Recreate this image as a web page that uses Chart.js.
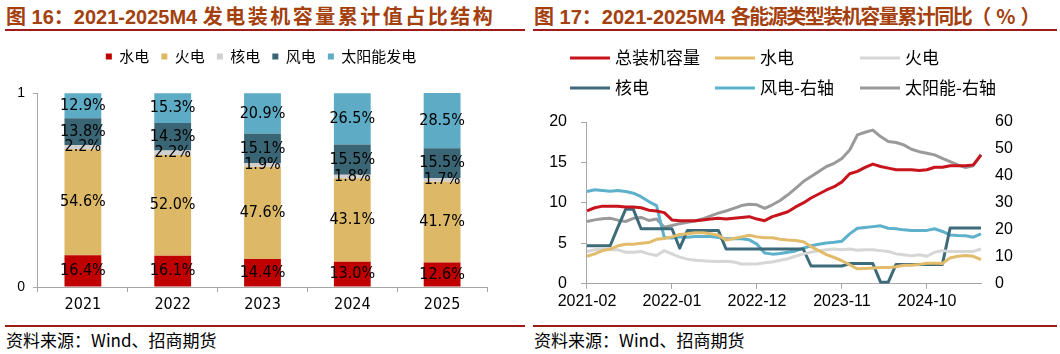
<!DOCTYPE html>
<html><head><meta charset="utf-8">
<script src="https://cdn.jsdelivr.net/npm/chart.js@4.4.1/dist/chart.umd.min.js"></script>
<style>
html,body{margin:0;padding:0;background:#fff;}
body{width:1060px;height:354px;position:relative;overflow:hidden;font-family:"Noto Sans CJK SC",sans-serif;}
.title{position:absolute;top:3px;font-weight:bold;font-size:20px;color:#A4400E;white-space:nowrap;font-family:"Liberation Sans","Noto Sans CJK SC",sans-serif;line-height:26px;}
.cjL{letter-spacing:2.5px;font-family:"Noto Sans CJK SC",sans-serif;}
.cjR{letter-spacing:-1.5px;font-family:"Noto Sans CJK SC",sans-serif;}
.pct{letter-spacing:5px;font-family:"Noto Sans CJK SC",sans-serif;}
.rule{position:absolute;height:2px;background:#9E1B1B;}
.src{position:absolute;top:330px;font-size:17px;color:#000;white-space:nowrap;line-height:20px;}
canvas{position:absolute;}
</style></head>
<body>
<div class="title" style="left:6px">图 16：2021-2025M4 <span class="cjL">发电装机容量累计值占比结构</span></div>
<div class="title" style="left:534px">图 17：2021-2025M4 <span class="cjR">各能源类型装机容量累计同比</span><span class="pct">（%）</span></div>
<div class="rule" style="left:5px;top:29px;width:520px"></div>
<div class="rule" style="left:533px;top:29px;width:524px"></div>
<canvas id="left" width="530" height="282" style="left:0;top:37px"></canvas>
<canvas id="right" width="530" height="282" style="left:530px;top:38px"></canvas>
<div class="rule" style="left:5px;top:325px;width:520px"></div>
<div class="rule" style="left:533px;top:325px;width:524px"></div>
<div class="src" style="left:6px">资料来源：Wind、招商期货</div>
<div class="src" style="left:534px">资料来源：Wind、招商期货</div>
<script>
// ---- Left chart data (share of installed capacity, %) ----
const barYears = ['2021','2022','2023','2024','2025'];
const barSeriesNames = ['水电','火电','核电','风电','太阳能发电'];
const hydroShare   = [16.4, 16.1, 14.4, 13.0, 12.6];
const thermalShare = [54.6, 52.0, 47.6, 43.1, 41.7];
const nuclearShare = [2.2, 2.2, 1.9, 1.8, 1.7];
const windShare    = [13.8, 14.3, 15.1, 15.5, 15.5];
const solarShare   = [12.9, 15.3, 20.9, 26.5, 28.5];

// ---- Right chart data (cumulative YoY, %) ----
const months = ['2021-02','2021-03','2021-04','2021-05','2021-06','2021-07','2021-08','2021-09','2021-10','2021-11','2021-12',
 '2022-01','2022-02','2022-03','2022-04','2022-05','2022-06','2022-07','2022-08','2022-09','2022-10','2022-11','2022-12',
 '2023-01','2023-02','2023-03','2023-04','2023-05','2023-06','2023-07','2023-08','2023-09','2023-10','2023-11','2023-12',
 '2024-01','2024-02','2024-03','2024-04','2024-05','2024-06','2024-07','2024-08','2024-09','2024-10','2024-11','2024-12',
 '2025-01','2025-02','2025-03','2025-04','2025-05'];
const monthTickLabels = ['2021-02','2022-01','2022-12','2023-11','2024-10'];
const lineSeriesNames = ['总装机容量','水电','火电','核电','风电-右轴','太阳能-右轴'];
const totalYoY = [9.0,9.4,9.6,9.6,9.6,9.5,9.5,9.4,9.1,9.0, 8.8,7.9,7.8,7.8,7.8,7.9,8.0,8.1,8.0,8.1, 8.2,8.3,8.0,7.8,8.3,8.6,8.9,9.5,10.0,10.6, 11.1,11.6,12.0,12.6,13.6,13.9,14.4,14.8,14.5,14.3, 14.1,14.1,14.1,14.0,14.1,14.4,14.4,14.6,14.6,14.6, 14.7,15.9];
const hydroYoY = [3.4,3.7,4.1,4.3,4.7,4.9,4.9,5.0,5.1,5.5, 5.6,5.8,6.1,6.2,6.3,6.3,6.2,6.0,5.4,5.6, 5.8,6.0,5.8,5.7,5.7,5.5,5.4,5.35,5.2,4.6, 4.1,3.6,3.25,2.85,2.35,1.85,1.9,1.95,2.0,2.0, 2.1,2.3,2.3,2.4,2.55,2.55,2.5,3.2,3.4,3.5, 3.4,3.0];
const thermalYoY = [4.0,4.2,4.3,4.2,4.2,3.9,3.9,4.0,3.7,3.5, 4.1,3.7,3.3,3.05,2.9,2.85,2.8,2.75,2.8,2.7, 2.45,2.45,2.45,2.6,2.7,2.9,3.1,3.4,3.7,3.9, 4.1,4.2,4.3,4.2,4.3,4.15,4.2,4.2,4.1,4.0, 3.7,3.6,3.45,3.6,3.4,3.9,4.1,4.0,4.0,4.0, 4.0,4.3];
const nuclearYoY = [4.7,4.7,4.7,4.7,7.0,9.2,9.2,6.8,6.8,6.8, 6.8,6.8,4.4,6.6,6.6,6.6,6.6,6.6,4.3,4.3, 4.3,4.3,4.3,4.3,4.3,4.3,4.3,4.3,4.3,2.2, 2.2,2.2,2.2,2.2,2.5,2.5,2.5,2.5,0.2,0.2, 2.4,2.4,2.4,2.4,2.4,2.4,2.4,6.9,6.9,6.9, 6.9,6.9];
const windYoY = [34.2,34.9,34.6,34.3,34.6,34.2,33.6,32.3,30.5,29.0, 17.2,17.0,17.4,17.3,17.5,17.5,17.5,17.2,16.7,16.7, 16.7,16.3,14.7,11.4,11.0,11.2,11.7,12.2,13.2,14.1, 14.7,15.1,15.4,15.8,18.5,20.6,20.9,21.2,21.5,20.6, 20.4,20.0,19.8,19.8,19.8,20.4,19.4,18.1,17.9,17.8, 17.3,18.5];
const solarYoY = [23.1,23.7,24.1,24.3,23.6,23.1,24.3,24.6,23.5,24.0, 21.0,21.6,22.3,22.8,23.3,24.1,25.2,26.2,27.0,28.0, 29.0,29.5,29.3,28.0,29.3,30.9,33.0,35.4,37.9,39.8, 41.6,43.5,44.7,46.5,49.6,55.2,56.2,57.0,54.6,52.8, 52.4,51.5,49.9,49.0,48.4,47.8,46.5,45.3,44.1,43.1, 43.8,48.0];

Chart.defaults.font.family = '"Liberation Sans", "Noto Sans CJK SC", sans-serif';
Chart.defaults.color = '#000';
const AXIS = '#A6A6A6';
const NARROW = '"Liberation Sans Narrow", "DejaVu Sans Condensed", "Liberation Sans", sans-serif';

const legendSpace = {
  id: 'legendSpace',
  beforeInit(chart) {
    const orig = chart.legend.fit;
    chart.legend.fit = function () { orig.call(this); this.height += 19; };
  },
  afterLayout(chart) { chart.legend.left += 13; chart.legend.right += 13; }
};

const barLabels = {
  id: 'barLabels',
  afterDatasetsDraw(chart) {
    const ctx = chart.ctx;
    ctx.save();
    ctx.font = '16px ' + NARROW;
    ctx.fillStyle = '#000';
    ctx.textAlign = 'center';
    ctx.textBaseline = 'middle';
    chart.data.datasets.forEach((ds, di) => {
      chart.getDatasetMeta(di).data.forEach((el, i) => {
        ctx.fillText(ds.data[i].toFixed(1) + '%', el.x, (el.y + el.base) / 2);
      });
    });
    ctx.restore();
  }
};

new Chart(document.getElementById('left'), {
  type: 'bar',
  data: {
    labels: barYears,
    datasets: [
      { label: barSeriesNames[0], data: hydroShare, backgroundColor: '#C00000' },
      { label: barSeriesNames[1], data: thermalShare, backgroundColor: '#DDB866' },
      { label: barSeriesNames[2], data: nuclearShare, backgroundColor: '#D0D0D0' },
      { label: barSeriesNames[3], data: windShare, backgroundColor: '#3A6574' },
      { label: barSeriesNames[4], data: solarShare, backgroundColor: '#5DABC5' }
    ]
  },
  options: {
    responsive: false, animation: false,
    layout: { padding: { top: 0, left: 9.2, right: 43, bottom: 1.8 } },
    datasets: { bar: { barPercentage: 0.41, categoryPercentage: 1 } },
    plugins: {
      legend: { position: 'top', labels: { boxWidth: 6, boxHeight: 6, padding: 12, color: '#000', font: { family: '"Noto Sans CJK SC", sans-serif', size: 15 } } },
      tooltip: { enabled: false }
    },
    scales: {
      x: { stacked: true, grid: { drawOnChartArea: false, tickLength: 5, color: AXIS, offset: true }, border: { color: AXIS },
           ticks: { padding: 3, color: '#000', font: { family: NARROW, size: 16 } } },
      y: { stacked: true, min: 0, max: 100, grid: { drawOnChartArea: false, tickLength: 5, color: AXIS }, border: { color: AXIS },
           ticks: { stepSize: 100, padding: 8, color: '#000', font: { size: 14 }, callback: v => String(v / 100) } }
    }
  },
  plugins: [legendSpace, barLabels]
});

const gridLegend = {
  id: 'gridLegend',
  afterDraw(chart) {
    const ctx = chart.ctx;
    const cols = [40, 185, 330], rows = [20, 50];
    ctx.save();
    ctx.font = '17px "Noto Sans CJK SC", sans-serif';
    ctx.textBaseline = 'middle'; ctx.textAlign = 'left';
    chart.data.datasets.forEach((ds, i) => {
      const x = cols[i % 3], y = rows[Math.floor(i / 3)];
      ctx.strokeStyle = ds.borderColor; ctx.lineWidth = 3;
      ctx.beginPath(); ctx.moveTo(x, y); ctx.lineTo(x + 40, y); ctx.stroke();
      ctx.fillStyle = '#000'; ctx.fillText(ds.label, x + 45, y);
    });
    ctx.restore();
  }
};

const lineColors = ['#C8141C', '#E2BB6B', '#D6D6D6', '#3D6B7A', '#5DB1CB', '#9A9A9A'];
const lineData = [totalYoY, hydroYoY, thermalYoY, nuclearYoY, windYoY, solarYoY];
new Chart(document.getElementById('right'), {
  type: 'line',
  data: {
    labels: months,
    datasets: lineSeriesNames.map((name, i) => ({
      label: name, data: lineData[i], borderColor: lineColors[i], backgroundColor: lineColors[i],
      yAxisID: i >= 4 ? 'y1' : 'y'
    }))
  },
  options: {
    responsive: false, animation: false,
    elements: { line: { borderWidth: 3, tension: 0, borderJoinStyle: 'round' }, point: { radius: 0 } },
    layout: { padding: { top: 84, left: 5.2, right: 33.2, bottom: 6 } },
    plugins: { legend: { display: false }, tooltip: { enabled: false } },
    scales: {
      x: {
        offset: false,
        grid: { drawOnChartArea: false, tickLength: 5, color: c => monthTickLabels.includes(months[c.index]) ? AXIS : 'rgba(0,0,0,0)' },
        border: { color: AXIS },
        ticks: { autoSkip: false, maxRotation: 0, minRotation: 0, padding: 3, color: '#000', font: { size: 16 },
                 callback: function (v) { const l = this.getLabelForValue(v); return monthTickLabels.includes(l) ? l : ''; } }
      },
      y: { position: 'left', min: 0, max: 20, grid: { drawOnChartArea: false, tickLength: 6, color: AXIS }, border: { color: AXIS },
           ticks: { stepSize: 5, padding: 14, color: '#000', font: { size: 16 } } },
      y1: { position: 'right', min: 0, max: 60, grid: { display: false, drawTicks: false, tickLength: 0 }, border: { display: false },
            ticks: { stepSize: 10, padding: 14, color: '#000', font: { size: 16 } } }
    }
  },
  plugins: [gridLegend]
});
</script>
</body></html>
